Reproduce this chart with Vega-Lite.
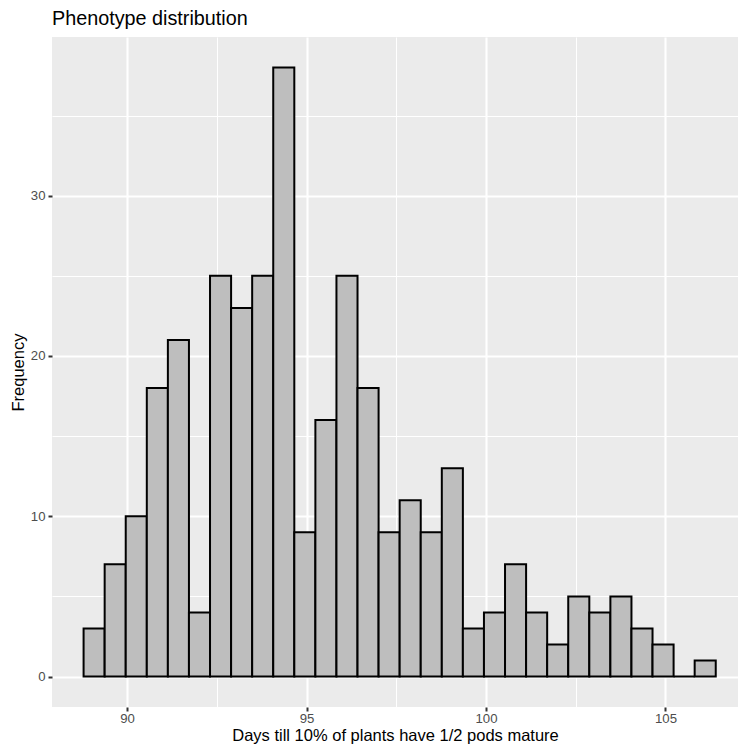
{
  "$schema": "https://vega.github.io/schema/vega-lite/v6.json",
  "width": 686,
  "height": 670,
  "autosize": "none",
  "padding": {"left": 52, "top": 37, "right": 0, "bottom": 44},
  "background": "white",
  "view": {"fill": "#EBEBEB", "stroke": null},
  "title": {"text": "Phenotype distribution", "anchor": "start", "frame": "group", "font": "Liberation Sans", "fontSize": 19.8, "fontWeight": "normal", "color": "black", "offset": 8},
  "config": {
    "axis": {"labelFont": "Liberation Sans", "titleFont": "Liberation Sans", "titleFontWeight": "normal", "labelColor": "#4D4D4D", "labelFontSize": 13.2, "titleFontSize": 16.5, "titleColor": "black", "gridColor": "white", "tickColor": "#333333", "domain": false}
  },
  "data": {"values": [
    {"start": 88.790, "end": 89.377, "count": 3},
    {"start": 89.377, "end": 89.964, "count": 7},
    {"start": 89.964, "end": 90.551, "count": 10},
    {"start": 90.551, "end": 91.138, "count": 18},
    {"start": 91.138, "end": 91.725, "count": 21},
    {"start": 91.725, "end": 92.312, "count": 4},
    {"start": 92.312, "end": 92.899, "count": 25},
    {"start": 92.899, "end": 93.486, "count": 23},
    {"start": 93.486, "end": 94.073, "count": 25},
    {"start": 94.073, "end": 94.660, "count": 38},
    {"start": 94.660, "end": 95.247, "count": 9},
    {"start": 95.247, "end": 95.834, "count": 16},
    {"start": 95.834, "end": 96.421, "count": 25},
    {"start": 96.421, "end": 97.008, "count": 18},
    {"start": 97.008, "end": 97.595, "count": 9},
    {"start": 97.595, "end": 98.182, "count": 11},
    {"start": 98.182, "end": 98.769, "count": 9},
    {"start": 98.769, "end": 99.356, "count": 13},
    {"start": 99.356, "end": 99.943, "count": 3},
    {"start": 99.943, "end": 100.530, "count": 4},
    {"start": 100.530, "end": 101.117, "count": 7},
    {"start": 101.117, "end": 101.704, "count": 4},
    {"start": 101.704, "end": 102.291, "count": 2},
    {"start": 102.291, "end": 102.878, "count": 5},
    {"start": 102.878, "end": 103.465, "count": 4},
    {"start": 103.465, "end": 104.052, "count": 5},
    {"start": 104.052, "end": 104.639, "count": 3},
    {"start": 104.639, "end": 105.226, "count": 2},
    {"start": 105.226, "end": 105.813, "count": 0},
    {"start": 105.813, "end": 106.400, "count": 1}
  ]},
  "layer": [
    {
      "mark": {"type": "bar", "fillOpacity": 0, "strokeOpacity": 0},
      "encoding": {
        "x": {"field": "start", "type": "quantitative", "scale": {"domain": [87.91, 107.02], "nice": false, "zero": false},
              "axis": {"orient": "bottom", "values": [87.5, 92.5, 97.5, 102.5, 107.5], "labels": false, "ticks": false, "title": null, "grid": true, "gridWidth": 1.07}},
        "x2": {"field": "end"},
        "y": {"field": "count", "type": "quantitative", "scale": {"domain": [-1.9, 39.9], "nice": false, "zero": false},
              "axis": {"orient": "left", "values": [5, 15, 25, 35], "labels": false, "ticks": false, "title": null, "grid": true, "gridWidth": 1.07}},
        "y2": {"datum": 0}
      }
    },
    {
      "mark": {"type": "bar", "fill": "#BEBEBE", "stroke": "black", "strokeWidth": 2},
      "encoding": {
        "x": {"field": "start", "type": "quantitative",
              "axis": {"orient": "bottom", "values": [90, 95, 100, 105], "title": "Days till 10% of plants have 1/2 pods mature", "grid": true, "gridWidth": 2.1, "tickSize": 4, "tickWidth": 2, "labelPadding": 1.5, "titlePadding": 3}},
        "x2": {"field": "end"},
        "y": {"field": "count", "type": "quantitative",
              "axis": {"orient": "left", "values": [0, 10, 20, 30], "title": "Frequency", "grid": true, "gridWidth": 2.1, "tickSize": 4, "tickWidth": 2, "labelPadding": 3, "titlePadding": 4}},
        "y2": {"datum": 0}
      }
    }
  ],
  "resolve": {"axis": {"x": "independent", "y": "independent"}}
}
